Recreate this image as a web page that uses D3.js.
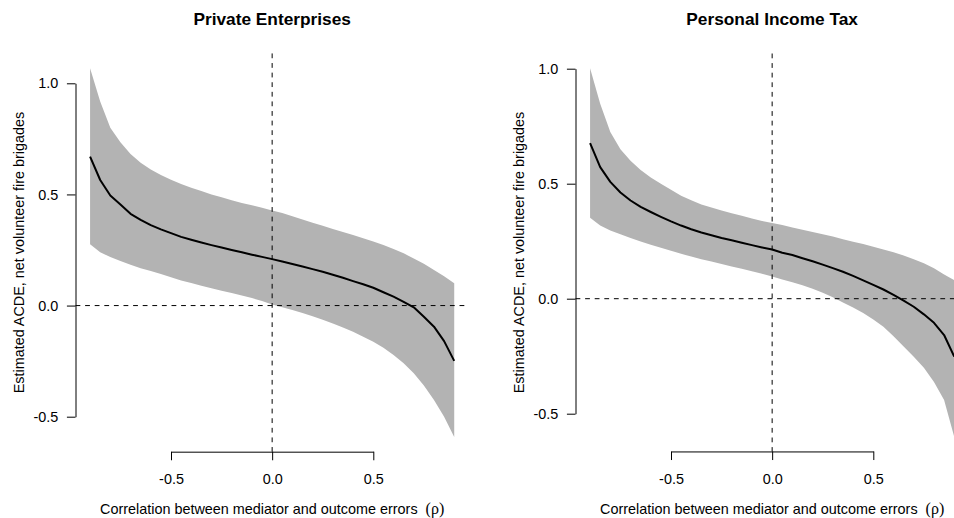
<!DOCTYPE html>
<html><head><meta charset="utf-8">
<script src="https://cdn.jsdelivr.net/npm/d3@7"></script>
<style>
body{margin:0;background:#fff}
svg text{font-family:"Liberation Sans",Arial,Helvetica,sans-serif;fill:#000}
</style>
</head><body>
<svg id="chart" width="954" height="518"></svg>
<script>
// ---- data ----
const rho = [-0.90,-0.85,-0.80,-0.75,-0.70,-0.65,-0.60,-0.55,-0.50,-0.45,-0.40,-0.35,-0.30,-0.25,-0.20,-0.15,-0.10,-0.05,0.00,
             0.05,0.10,0.15,0.20,0.25,0.30,0.35,0.40,0.45,0.50,0.55,0.60,0.65,0.70,0.75,0.80,0.85,0.90];

const panelTitles = ["Private Enterprises", "Personal Income Tax"];

const peEstimate = [0.670,0.565,0.495,0.455,0.413,0.386,0.362,0.343,0.326,0.309,0.296,0.284,0.272,0.261,0.250,0.240,0.229,0.219,0.209,
                    0.198,0.187,0.176,0.164,0.152,0.139,0.125,0.110,0.096,0.080,0.060,0.040,0.017,-0.008,-0.050,-0.095,-0.160,-0.249];
const peUpper    = [1.068,0.918,0.800,0.735,0.682,0.643,0.612,0.587,0.566,0.547,0.530,0.515,0.500,0.487,0.474,0.462,0.451,0.440,0.428,
                    0.416,0.402,0.387,0.373,0.359,0.345,0.331,0.317,0.303,0.288,0.272,0.255,0.235,0.212,0.188,0.160,0.132,0.100];
const peLower    = [0.276,0.240,0.218,0.200,0.184,0.168,0.155,0.142,0.127,0.113,0.101,0.089,0.078,0.067,0.056,0.045,0.034,0.020,0.005,
                    -0.008,-0.020,-0.034,-0.048,-0.064,-0.081,-0.099,-0.118,-0.140,-0.163,-0.190,-0.222,-0.260,-0.305,-0.360,-0.425,-0.500,-0.591];

const pitEstimate = [0.676,0.572,0.508,0.462,0.427,0.399,0.377,0.356,0.336,0.318,0.302,0.288,0.276,0.264,0.254,0.243,0.233,0.223,0.214,
                     0.200,0.190,0.176,0.163,0.148,0.133,0.117,0.099,0.080,0.060,0.040,0.017,-0.008,-0.035,-0.068,-0.105,-0.158,-0.252];
const pitUpper    = [1.002,0.848,0.725,0.650,0.600,0.560,0.527,0.500,0.474,0.448,0.428,0.410,0.396,0.383,0.372,0.361,0.349,0.338,0.329,
                     0.320,0.310,0.300,0.290,0.280,0.270,0.259,0.248,0.238,0.226,0.214,0.202,0.188,0.172,0.154,0.132,0.105,0.081];
const pitLower    = [0.352,0.318,0.296,0.280,0.264,0.249,0.235,0.221,0.208,0.195,0.183,0.172,0.162,0.151,0.140,0.130,0.119,0.108,0.096,
                     0.084,0.072,0.058,0.043,0.026,0.006,-0.016,-0.038,-0.062,-0.090,-0.122,-0.163,-0.208,-0.252,-0.300,-0.362,-0.440,-0.600];

const xTickValues = [-0.5, 0.0, 0.5];
const yTickValues = [-0.5, 0.0, 0.5, 1.0];

const xAxisTitle = "Correlation between mediator and outcome errors";
const xAxisSymbol = "(\u03C1)";
const yAxisTitle = "Estimated ACDE, net volunteer fire brigades";

// ---- layout ----
const panels = [
  {title: panelTitles[0], est: peEstimate, up: peUpper, lo: peLower,
   xRange: [171.0, 373.3], yRange: [416.7, 83.3], yLabelX: 24},
  {title: panelTitles[1], est: pitEstimate, up: pitUpper, lo: pitLower,
   xRange: [671.0, 873.3], yRange: [413.7, 68.7], yLabelX: 524}
];

const FS = 14.4;
const svg = d3.select("#chart");
const fmt = d => d.toFixed(1);

panels.forEach(p => {
  const x = d3.scaleLinear().domain([-0.5, 0.5]).range(p.xRange);
  const y = d3.scaleLinear().domain([-0.5, 1.0]).range(p.yRange);

  // plotting region (R-style 4% extension of data range)
  const xmin = d3.min(rho), xmax = d3.max(rho);
  const ymin = d3.min(p.lo), ymax = d3.max(p.up);
  const ex = 0.04 * (xmax - xmin), ey = 0.04 * (ymax - ymin);
  const left = x(xmin - ex), right = x(xmax + ex);
  const top = y(ymax + ey), bottom = y(ymin - ey);

  const g = svg.append("g");

  // confidence band
  const rows = rho.map((r, i) => ({r, e: p.est[i], u: p.up[i], l: p.lo[i]}));
  g.append("path").datum(rows)
    .attr("fill", "#b3b3b3")
    .attr("d", d3.area().x(d => x(d.r)).y0(d => y(d.l)).y1(d => y(d.u)));

  // estimate line
  g.append("path").datum(rows)
    .attr("fill", "none").attr("stroke", "#000").attr("stroke-width", 2)
    .attr("stroke-linejoin", "round")
    .attr("d", d3.line().x(d => x(d.r)).y(d => y(d.e)));

  // reference dashed lines
  g.append("line")
    .attr("x1", left).attr("x2", right).attr("y1", y(0)).attr("y2", y(0))
    .attr("stroke", "#000").attr("stroke-width", 1).attr("stroke-dasharray", "4.8,4.8");
  g.append("line")
    .attr("x1", x(0)).attr("x2", x(0)).attr("y1", top).attr("y2", bottom)
    .attr("stroke", "#000").attr("stroke-width", 1).attr("stroke-dasharray", "4.8,4.8");

  // axes
  const yAxis = g.append("g").attr("transform", `translate(${left},0)`)
    .call(d3.axisLeft(y).tickValues(yTickValues).tickFormat(fmt)
      .tickSize(8.6).tickSizeOuter(0).tickPadding(8.7));
  const xAxis = g.append("g").attr("transform", `translate(0,${bottom})`)
    .call(d3.axisBottom(x).tickValues(xTickValues).tickFormat(fmt)
      .tickSize(8.6).tickSizeOuter(0).tickPadding(13.5));
  [yAxis, xAxis].forEach(a => {
    a.attr("font-size", FS).attr("font-family", null);
    a.selectAll("path,line").attr("stroke", "#000").attr("stroke-width", 1);
    a.selectAll("text").attr("fill", "#000");
  });

  // titles
  const cx = (left + right) / 2;
  g.append("text").attr("x", cx).attr("y", 25)
    .attr("text-anchor", "middle").attr("font-size", 17.3).attr("font-weight", "bold")
    .text(p.title);

  const xt = g.append("text").attr("x", cx).attr("y", 514)
    .attr("text-anchor", "middle").attr("font-size", FS);
  xt.append("tspan").text(xAxisTitle + "\u00A0\u00A0");
  xt.append("tspan").style("font-family", "'Liberation Serif','Times New Roman',serif")
    .attr("font-size", 16).text(xAxisSymbol);

  g.append("text")
    .attr("transform", `translate(${p.yLabelX},${(top + bottom) / 2}) rotate(-90)`)
    .attr("text-anchor", "middle").attr("font-size", FS)
    .text(yAxisTitle);
});
</script>
</body></html>
